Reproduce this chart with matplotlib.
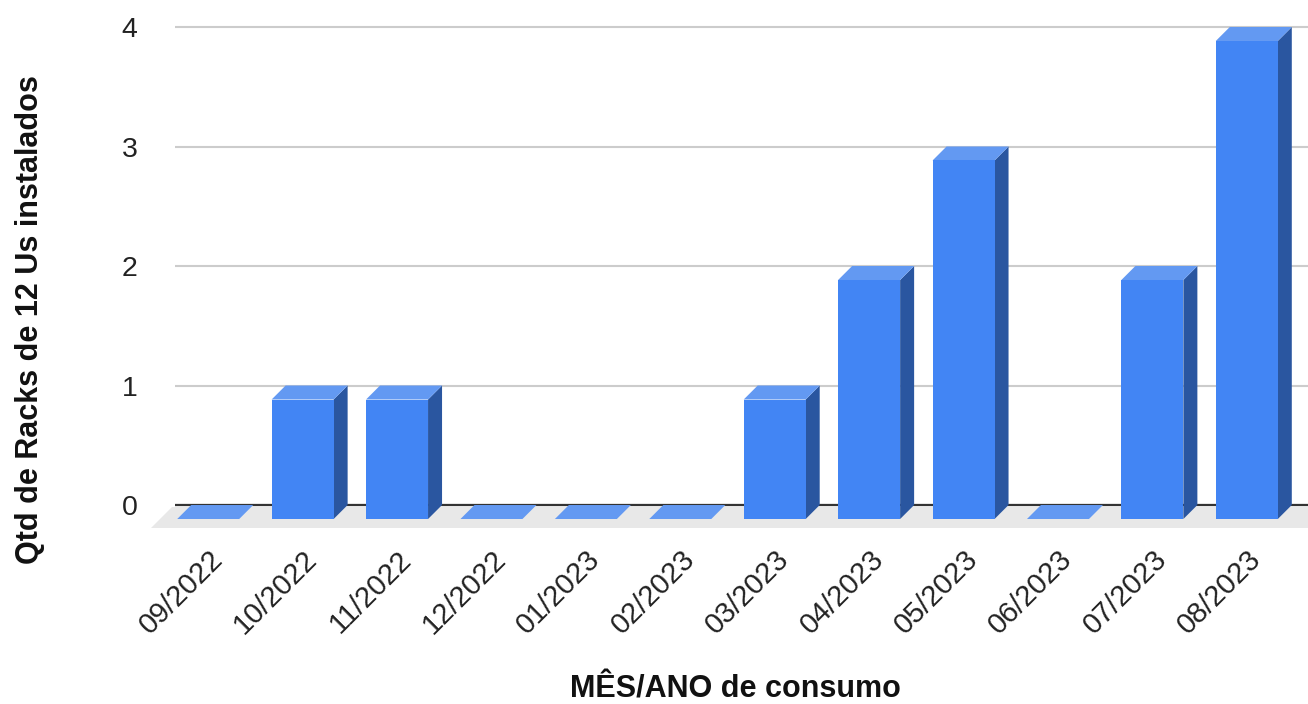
import matplotlib
matplotlib.use("Agg")
import matplotlib.pyplot as plt
from matplotlib.patches import Polygon
from matplotlib.transforms import ScaledTranslation

plt.rcParams['font.family'] = ['Liberation Sans', 'DejaVu Sans']

# Monthly installed racks
months = ["09/2022", "10/2022", "11/2022", "12/2022", "01/2023", "02/2023",
          "03/2023", "04/2023", "05/2023", "06/2023", "07/2023", "08/2023"]
racks = [0, 1, 1, 0, 0, 0, 1, 2, 3, 0, 2, 4]
y_ticks = [0, 1, 2, 3, 4]

FRONT = "#4285f4"
SIDE = "#2a56a0"
TOP = "#6399f2"
FLOOR = "#e8e8e8"

W, H = 1308, 704
fig = plt.figure(figsize=(W / 100, H / 100), dpi=100)

# axes box in pixel terms (left, top, right, bottom measured from the top-left)
left_px, top_px, right_px, bot_px = 175, 20, 1308, 535
ax = fig.add_axes([left_px / W, 1 - bot_px / H,
                   (right_px - left_px) / W, (bot_px - top_px) / H])

px_per_unit = 119.6
zero_px = 505
ax.set_xlim(-0.5, len(months) - 0.5)
ax.set_ylim(-(bot_px - zero_px) / px_per_unit, 4 + (27 - top_px) / px_per_unit)

# 3D extrusion offsets expressed in data units
px_per_cat = (right_px - left_px) / len(months)
dx = 14 / px_per_cat
dy = 14 / px_per_unit
bw = 62 / px_per_cat

# floor plane
fdx = 21 / px_per_cat
fdy = 23 / px_per_unit
floor = Polygon([(-0.53, -0.015), (20, -0.015), (20, -fdy), (-0.53 - fdx, -fdy)],
                closed=True, facecolor=FLOOR, edgecolor="none", zorder=1,
                clip_on=False)
ax.add_patch(floor)

ax.set_yticks(y_ticks)
ax.yaxis.grid(True, color="#cccccc", linewidth=1.5, zorder=0)
ax.axhline(0, color="#333333", linewidth=1.6, zorder=2)
ax.set_axisbelow(True)

for i, v in enumerate(racks):
    bl, br = i - bw / 2, i + bw / 2
    if v == 0:
        ax.add_patch(Polygon([(bl - dx, -dy), (br - dx, -dy), (br, 0), (bl, 0)],
                             closed=True, facecolor=TOP, edgecolor="none", zorder=3))
        continue
    # side face
    ax.add_patch(Polygon([(br - dx, -dy), (br, 0), (br, v), (br - dx, v - dy)],
                         closed=True, facecolor=SIDE, edgecolor="none", zorder=3))
    # top face
    ax.add_patch(Polygon([(bl - dx, v - dy), (br - dx, v - dy), (br, v), (bl, v)],
                         closed=True, facecolor=TOP, edgecolor="none", zorder=3))
    # front face
    ax.add_patch(Polygon([(bl - dx, -dy), (br - dx, -dy), (br - dx, v - dy), (bl - dx, v - dy)],
                         closed=True, facecolor=FRONT, edgecolor="none", zorder=4))

ax.set_xticks(range(len(months)))
ax.set_xticklabels(months, rotation=45, ha="right", va="top",
                   fontsize=21, color="#222222")
ax.set_yticklabels([str(t) for t in y_ticks], fontsize=20.5, color="#222222")
ax.tick_params(axis="both", length=0)
ax.tick_params(axis="y", pad=27)
ax.tick_params(axis="x", pad=6)
shift = ScaledTranslation(6 / 100, -2 / 100, fig.dpi_scale_trans)
for lbl in ax.get_xticklabels():
    lbl.set_transform(lbl.get_transform() + shift)
for s in ax.spines.values():
    s.set_visible(False)

fig.text(30 / W, 1 - 320 / H, "Qtd de Racks de 12 Us instalados", rotation=90,
         ha="center", va="center", fontsize=22, fontweight="bold", color="#111111")
fig.text(735 / W, 1 - 690 / H, "MÊS/ANO de consumo", ha="center", va="center",
         fontsize=22, fontweight="bold", color="#111111")

fig.savefig("out.png", dpi=100)
